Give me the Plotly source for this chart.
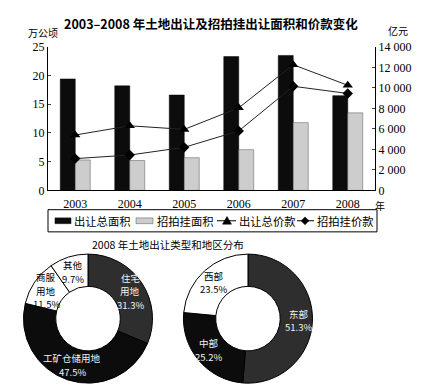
import math
import plotly.graph_objects as go

years = ["2003", "2004", "2005", "2006", "2007", "2008"]
total_area = [19.4, 18.2, 16.6, 23.3, 23.5, 16.5]
auction_area = [5.3, 5.2, 5.7, 7.1, 11.8, 13.5]
total_price = [5400, 6300, 5950, 8050, 12250, 10250]
auction_price = [3100, 3450, 4200, 5800, 10150, 9450]
y2_ticks = [0, 2000, 4000, 6000, 8000, 10000, 12000, 14000]
y2_ticktext = ["0", "2 000", "4 000", "6 000", "8 000", "10 000", "12 000", "14 000"]

type_labels = ["住宅用地", "工矿仓储用地", "商服用地", "其他"]
type_values = [31.3, 47.5, 11.5, 9.7]
type_text = [["住宅", "用地", "31.3%"], ["工矿仓储用地", "47.5%"], ["商服", "用地", "11.5%"], ["其他", "9.7%"]]
region_labels = ["东部", "中部", "西部"]
region_values = [51.3, 25.2, 23.5]
region_text = [["东部", "51.3%"], ["中部", "25.2%"], ["西部", "23.5%"]]

W, H = 421, 387
CJK = "Noto Sans CJK SC"
SERIF = "Liberation Serif"
DARK = "#2e2e2e"
BLACK = "#0c0c0c"
LIGHT = "#cdcdcd"


def X(px):
    return px / W


def Y(py):
    return 1 - py / H


fig = go.Figure()
fig.add_trace(go.Bar(x=years, y=total_area, name="出让总面积",
                     marker=dict(color=BLACK, line=dict(color="#000", width=0.5))))
fig.add_trace(go.Bar(x=years, y=auction_area, name="招拍挂面积",
                     marker=dict(color=LIGHT, line=dict(color="#555", width=0.5))))
fig.add_trace(go.Scatter(x=years, y=total_price, name="出让总价款", yaxis="y2",
                         mode="lines+markers", line=dict(color="#222", width=1),
                         marker=dict(symbol="triangle-up", size=9, color="#000")))
fig.add_trace(go.Scatter(x=years, y=auction_price, name="招拍挂价款", yaxis="y2",
                         mode="lines+markers", line=dict(color="#222", width=1),
                         marker=dict(symbol="diamond", size=8, color="#000")))

annotations = []
LINE_H = 14
PIE_FONT = 9.5


def add_donut(labels, values, texts, colors, dom_x, dom_y):
    fig.add_trace(go.Pie(labels=labels, values=values, textinfo="none", hole=0.5,
                         sort=False, direction="clockwise", rotation=0,
                         marker=dict(colors=colors, line=dict(color="#000", width=1)),
                         domain=dict(x=dom_x, y=dom_y), showlegend=False,
                         hoverinfo="label+percent"))
    cx = (dom_x[0] + dom_x[1]) / 2 * W
    cy = (1 - (dom_y[0] + dom_y[1]) / 2) * H
    R = min((dom_x[1] - dom_x[0]) * W, (dom_y[1] - dom_y[0]) * H) / 2
    r = R * 0.76
    total = sum(values)
    acc = 0
    for v, lines, c in zip(values, texts, colors):
        mid = (acc + v / 2) / total * 2 * math.pi
        acc += v
        px = cx + r * math.sin(mid)
        py = cy - r * math.cos(mid)
        tc = "#f2f2f2" if c != "#ffffff" else "#000"
        n = len(lines)
        for i, t in enumerate(lines):
            ly = py + (i - (n - 1) / 2) * LINE_H
            annotations.append(dict(text=t, x=X(px), y=Y(ly), xref="paper", yref="paper",
                                    xanchor="center", yanchor="middle", showarrow=False,
                                    borderpad=0,
                                    font=dict(family=CJK, size=PIE_FONT, color=tc)))


add_donut(type_labels, type_values, type_text, [DARK, BLACK, "#ffffff", "#ffffff"],
          [0.031, 0.349], [0.013, 0.359])
add_donut(region_labels, region_values, region_text, [DARK, BLACK, "#ffffff"],
          [0.411, 0.729], [0.013, 0.359])

# legend (drawn manually, compact as in the reference)
LY = 213.5
shapes = [
    dict(type="rect", xref="paper", yref="paper", x0=X(40), x1=X(369), y0=Y(202), y1=Y(225),
         line=dict(color="#000", width=1), fillcolor="white", layer="below"),
    dict(type="rect", xref="paper", yref="paper", x0=X(47), x1=X(63), y0=Y(LY - 3), y1=Y(LY + 3),
         line=dict(color="#000", width=0.5), fillcolor=BLACK),
    dict(type="rect", xref="paper", yref="paper", x0=X(128), x1=X(145), y0=Y(LY - 3), y1=Y(LY + 3),
         line=dict(color="#555", width=0.5), fillcolor=LIGHT),
    dict(type="line", xref="paper", yref="paper", x0=X(209), x1=X(228), y0=Y(LY), y1=Y(LY),
         line=dict(color="#000", width=1)),
    dict(type="path", xref="paper", yref="paper",
         path=f"M {X(219)},{Y(LY - 4.5)} L {X(223.5)},{Y(LY + 3.5)} L {X(214.5)},{Y(LY + 3.5)} Z",
         line=dict(color="#000", width=0.5), fillcolor="#000"),
    dict(type="line", xref="paper", yref="paper", x0=X(289), x1=X(306), y0=Y(LY), y1=Y(LY),
         line=dict(color="#000", width=1)),
    dict(type="path", xref="paper", yref="paper",
         path=f"M {X(297)},{Y(LY - 4)} L {X(301)},{Y(LY)} L {X(297)},{Y(LY + 4)} L {X(293)},{Y(LY)} Z",
         line=dict(color="#000", width=0.5), fillcolor="#000"),
]
for lx, name in [(64, "出让总面积"), (147, "招拍挂面积"), (229, "出让总价款"), (307, "招拍挂价款")]:
    annotations.append(dict(text=name, x=X(lx), y=Y(LY), xref="paper", yref="paper",
                            xanchor="left", yanchor="middle", showarrow=False,
                            font=dict(family=CJK, size=11.3)))

annotations += [
    dict(text="<b>2003–2008 年土地出让及招拍挂出让面积和价款变化</b>", x=X(203), y=Y(9),
         xref="paper", yref="paper", xanchor="center", yanchor="middle", showarrow=False,
         font=dict(family=CJK, size=12.5)),
    dict(text="万公顷", x=X(18), y=Y(18), xref="paper", yref="paper", xanchor="left",
         yanchor="middle", showarrow=False, font=dict(family=CJK, size=10)),
    dict(text="亿元", x=X(378), y=Y(16), xref="paper", yref="paper", xanchor="left",
         yanchor="middle", showarrow=False, font=dict(family=CJK, size=10)),
    dict(text="年", x=X(366), y=Y(197.5), xref="paper", yref="paper", xanchor="left",
         yanchor="middle", showarrow=False, borderpad=0, font=dict(family=CJK, size=10)),
    dict(text="2008 年土地出让类型和地区分布", x=X(160), y=Y(238), xref="paper", yref="paper",
         xanchor="center", yanchor="middle", showarrow=False,
         font=dict(family=CJK, size=10.5)),
]

fig.update_layout(
    width=W, height=H,
    margin=dict(l=0, r=0, t=0, b=0),
    paper_bgcolor="white", plot_bgcolor="white",
    showlegend=False,
    barmode="group", bargap=0.45, bargroupgap=0,
    font=dict(family=SERIF, size=12, color="#000"),
    xaxis=dict(domain=[X(40), X(367)], showline=True, linecolor="#000", linewidth=1,
               ticks="", showgrid=False, tickfont=dict(family=SERIF, size=12),
               anchor="y", ticklabelstandoff=2),
    yaxis=dict(domain=[Y(182), Y(33)], range=[0, 25], tickvals=[0, 5, 10, 15, 20, 25],
               showline=True, linecolor="#000", linewidth=1, ticks="inside", ticklen=3,
               showgrid=False, zeroline=False, tickfont=dict(family=SERIF, size=12)),
    yaxis2=dict(overlaying="y", side="right", range=[0, 14000], tickvals=y2_ticks,
                ticktext=y2_ticktext, showline=True, linecolor="#000", linewidth=1,
                ticks="inside", ticklen=3, showgrid=False, zeroline=False,
                tickfont=dict(family=SERIF, size=12), anchor="x"),
    shapes=shapes,
    annotations=annotations,
)

fig.write_html("out.html")
